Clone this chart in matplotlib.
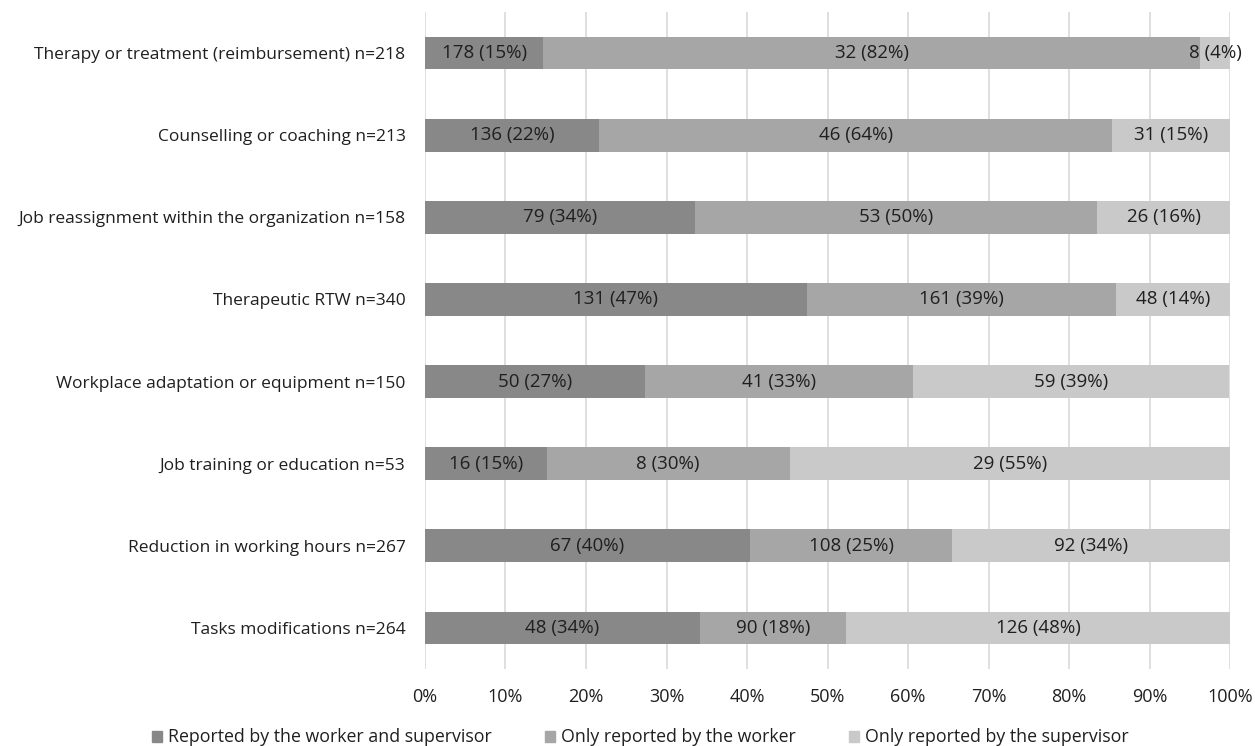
import matplotlib.pyplot as plt
from matplotlib.patches import Patch

plt.rcParams['font.family'] = ['Open Sans', 'DejaVu Sans']

CATEGORIES = [
    'Therapy or treatment (reimbursement) n=218',
    'Counselling or coaching n=213',
    'Job reassignment within the organization n=158',
    'Therapeutic RTW n=340',
    'Workplace adaptation or equipment n=150',
    'Job training or education n=53',
    'Reduction in working hours n=267',
    'Tasks modifications n=264',
]
SERIES = [
    'Reported by the worker and supervisor',
    'Only reported by the worker',
    'Only reported by the supervisor',
]
# segment widths (% of row)
BOTH = [14.7, 21.6, 33.5, 47.4, 27.3, 15.1, 40.4, 34.1]
WORKER = [81.6, 63.8, 50.0, 38.5, 33.3, 30.2, 25.1, 18.2]
SUPERVISOR = [3.7, 14.6, 16.5, 14.1, 39.3, 54.7, 34.5, 47.7]
# labels as printed on the bars
LBL_BOTH = ['178 (15%)', '136 (22%)', '79 (34%)', '131 (47%)', '50 (27%)', '16 (15%)', '67 (40%)', '48 (34%)']
LBL_WORKER = ['32 (82%)', '46 (64%)', '53 (50%)', '161 (39%)', '41 (33%)', '8 (30%)', '108 (25%)', '90 (18%)']
LBL_SUPERVISOR = ['8 (4%)', '31 (15%)', '26 (16%)', '48 (14%)', '59 (39%)', '29 (55%)', '92 (34%)', '126 (48%)']

colors = ['#888888', '#a6a6a6', '#c9c9c9']
txt = '#1f1f1f'

fig = plt.figure(figsize=(12.55, 7.46), dpi=100)
ax = fig.add_axes([425 / 1255, 1 - 669 / 746, 805 / 1255, (669 - 12) / 746])

y = list(range(len(CATEGORIES)))
left = [0] * len(y)
for vals, lbls, c in zip([BOTH, WORKER, SUPERVISOR], [LBL_BOTH, LBL_WORKER, LBL_SUPERVISOR], colors):
    ax.barh(y, vals, left=left, height=0.4, color=c, zorder=2)
    for yi, l, v, t in zip(y, left, vals, lbls):
        ax.text(l + v / 2, yi, t, ha='center', va='center', fontsize=13.5, color=txt, zorder=3)
    left = [a + b for a, b in zip(left, vals)]

ax.set_xlim(0, 100)
ax.set_ylim(len(y) - 0.5, -0.5)
ax.set_yticks(y)
ax.set_yticklabels(CATEGORIES, fontsize=12.5, color=txt)
ax.set_xticks(range(0, 101, 10))
ax.set_xticklabels([f'{v}%' for v in range(0, 101, 10)], fontsize=13, color=txt)
ax.tick_params(axis='y', length=0, pad=14)
ax.tick_params(axis='x', length=0, pad=14)
ax.grid(axis='x', color='#d9d9d9', linewidth=1.2, zorder=0)
for s in ax.spines.values():
    s.set_visible(False)

handles = [Patch(color=c, label=s) for c, s in zip(colors, SERIES)]
fig.legend(handles=handles, loc='lower center', bbox_to_anchor=(0.51, -0.022), ncol=3, frameon=False,
           fontsize=12.8, handlelength=0.6, handleheight=0.6, handletextpad=0.3, columnspacing=3.0,
           labelcolor=txt)

fig.savefig('out.png', dpi=100)
